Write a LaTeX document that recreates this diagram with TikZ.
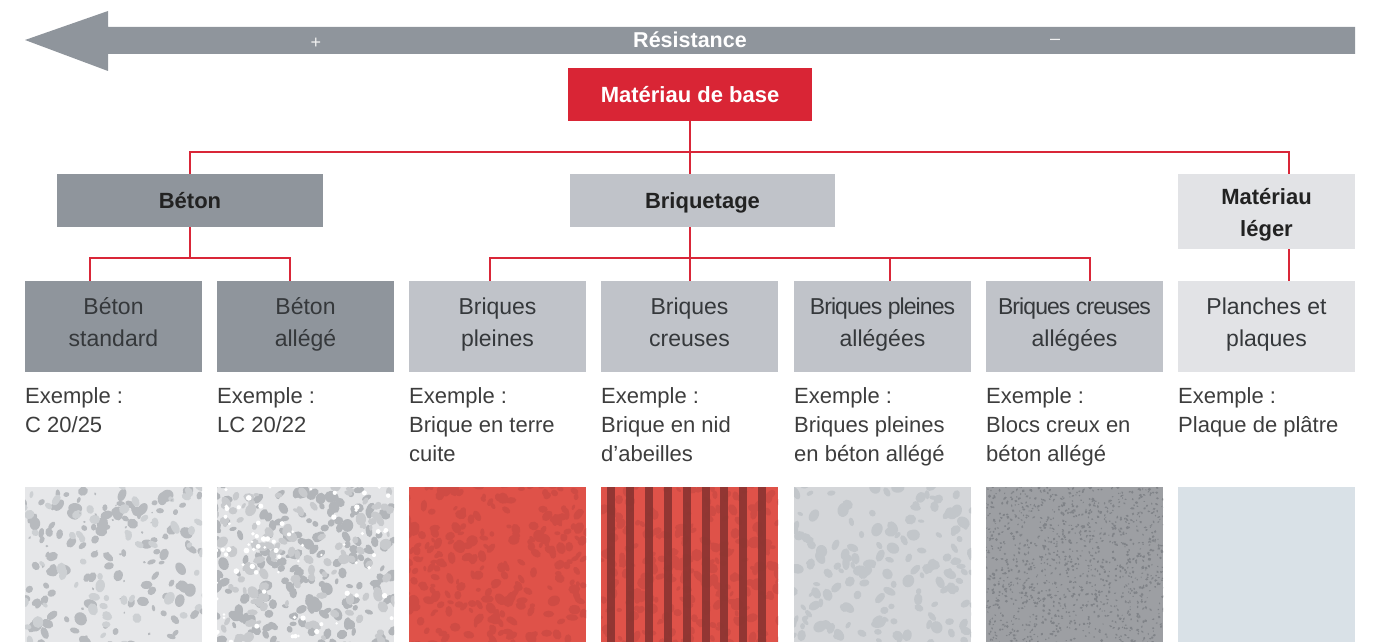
\documentclass[tikz,border=0pt]{standalone}
\usepackage{fontspec}
\setmainfont{Liberation Sans}
\definecolor{arrowgray}{HTML}{8F959C}
\definecolor{conred}{HTML}{D92638}
\definecolor{basered}{HTML}{D92535}
\definecolor{betongray}{HTML}{8F959C}
\definecolor{briqgray}{HTML}{C0C3C9}
\definecolor{legergray}{HTML}{E2E3E6}
\definecolor{txtdark}{HTML}{222222}
\definecolor{leaftxt}{HTML}{35383B}
\definecolor{extxt}{HTML}{3D3D3D}
\definecolor{sw1bg}{HTML}{E6E7E9}\definecolor{sw1a}{HTML}{B7BABE}\definecolor{sw1b}{HTML}{CDD0D3}
\definecolor{sw2bg}{HTML}{E3E4E6}\definecolor{sw2a}{HTML}{B2B5B9}\definecolor{sw2b}{HTML}{C8CACD}
\definecolor{redbg}{HTML}{DF5249}\definecolor{redst}{HTML}{CF4B44}\definecolor{stripe}{HTML}{8A3431}
\definecolor{sw5bg}{HTML}{D4D6D9}\definecolor{sw5a}{HTML}{C2C6CA}
\definecolor{sw6bg}{HTML}{9D9FA3}\definecolor{sw6a}{HTML}{808388}
\definecolor{sw7bg}{HTML}{D9E1E7}
\newcommand\mystones[5]{% x0, count, color, rmin, rrange
  \foreach \k in {1,...,#2}{%
    \pgfmathsetmacro\sx{#1+rnd*185-4}%
    \pgfmathsetmacro\sy{483+rnd*163}%
    \pgfmathsetmacro\sa{#4+rnd*#5}%
    \pgfmathsetmacro\sb{\sa*(0.5+0.4*rnd)}%
    \pgfmathsetmacro\sr{rnd*180}%
    \fill[#3,shift={(\sx,\sy)},rotate=\sr] (0,0) ellipse ({\sa} and {\sb});
  }}
\newcommand\twolines[2]{\rule{0pt}{20pt}#1\\#2\rule[-12.5pt]{0pt}{12.5pt}}
\begin{document}
\begin{tikzpicture}[x=1pt,y=-1pt,
  hdr/.style={font=\fontsize{22}{32}\selectfont\bfseries, text=txtdark, inner sep=0, align=center, minimum height=53, text height=16, text depth=0},
  leaf/.style={font=\fontsize{23}{32.5}\selectfont, text=leaftxt, inner sep=0, align=center, minimum width=177, minimum height=91},
  ex/.style={font=\fontsize{22}{29}\selectfont, text=extxt, inner sep=0, align=left, anchor=north west},
  conn/.style={draw=conred, line width=1.8},
  arrowshape/.style={fill=arrowgray},
  sign/.style={text=white!90!gray, font=\fontsize{18}{18}\selectfont, inner sep=0}]
\useasboundingbox (0,0) rectangle (1373,642);
% resistance arrow
\fill[arrowshape] (25,40) -- (108,11) -- (108,27) -- (1355,27) -- (1355,54) -- (108,54) -- (108,71) -- cycle;
\node[font=\fontsize{21.5}{22}\selectfont\bfseries, text=white, anchor=base, inner sep=0] (res) at (690,48) {Résistance};
\node[sign] (plus) at (316,43) {+};
\node[sign] (minus) at (1055,42) {–};
% top boxes
\node[hdr, fill=basered, text=white, minimum width=244] (base) at (690,94.5) {Matériau de base};
\node[hdr, fill=betongray, minimum width=266] (beton) at (190,200.5) {Béton};
\node[hdr, fill=briqgray, minimum width=265] (briq) at (702.5,200.5) {Briquetage};
\node[font=\fontsize{22}{32}\selectfont\bfseries, text=txtdark, inner sep=0, align=center, fill=legergray, minimum width=177, minimum height=75] (leger) at (1266.5,211.5) {\rule{0pt}{23.5pt}Matériau\\léger\rule[-4.5pt]{0pt}{4.5pt}};
% leaves
\node[leaf, fill=betongray] (bs) at (113.5,326.5) {\twolines{Béton}{standard}};
\node[leaf, fill=betongray] (ba) at (305.5,326.5) {\twolines{Béton}{allégé}};
\node[leaf, fill=briqgray] (bp) at (497.5,326.5) {\twolines{Briques}{pleines}};
\node[leaf, fill=briqgray] (bc) at (689.5,326.5) {\twolines{Briques}{creuses}};
\node[leaf, fill=briqgray] (bpa) at (882.5,326.5) {\twolines{{\addfontfeature{LetterSpace=-4}Briques pleines}}{allégées}};
\node[leaf, fill=briqgray] (bca) at (1074.5,326.5) {\twolines{{\addfontfeature{LetterSpace=-4}Briques creuses}}{allégées}};
\node[leaf, fill=legergray] (pl) at (1266.5,326.5) {\twolines{Planches et}{plaques}};
% connectors
\coordinate (tbR) at (1289,152);
\coordinate (bL) at (90,258);
\coordinate (bR) at (290,258);
\coordinate (qL) at (490,258);
\coordinate (q2) at (890,258);
\coordinate (qR) at (1090,258);
\draw[conn] (beton.north) |- (tbR) -- (tbR |- leger.north);
\draw[conn] (base.south) -- (base.south |- briq.north);
\draw[conn] (beton.south) -- (beton.south |- bL);
\draw[conn] (bL |- bs.north) -- (bL) -- (bR) -- (bR |- ba.north);
\draw[conn] (base.south |- briq.south) -- (base.south |- bc.north);
\draw[conn] (qL |- bp.north) -- (qL) -- (qR) -- (qR |- bca.north);
\draw[conn] (q2) -- (q2 |- bpa.north);
\draw[conn] (tbR |- leger.south) -- (tbR |- pl.north);
% examples
\node[ex] (ex1) at (25,387) {Exemple :\\C 20/25};
\node[ex] (ex2) at (217,387) {Exemple :\\LC 20/22};
\node[ex] (ex3) at (409,387) {Exemple :\\Brique en terre\\cuite};
\node[ex] (ex4) at (601,387) {Exemple :\\Brique en nid\\d’abeilles};
\node[ex] (ex5) at (794,387) {Exemple :\\Briques pleines\\en béton allégé};
\node[ex] (ex6) at (986,387) {Exemple :\\Blocs creux en\\béton allégé};
\node[ex] (ex7) at (1178,387) {Exemple :\\Plaque de plâtre};
% swatches
\pgfmathsetseed{7}
\begin{scope}
\clip (25,487) rectangle (202,642);
\fill[sw1bg] (25,487) rectangle (202,642);
\mystones{25}{120}{sw1a}{3}{4}
\mystones{25}{60}{sw1b}{3}{4}
\mystones{25}{35}{sw1a}{0.8}{1}
\end{scope}
\begin{scope}
\clip (217,487) rectangle (394,642);
\fill[sw2bg] (217,487) rectangle (394,642);
\mystones{217}{200}{sw2a}{2.8}{3.8}
\mystones{217}{120}{sw2b}{2.8}{3.8}
\foreach \k in {1,...,80}{\pgfmathsetmacro\sx{213+rnd*185}\pgfmathsetmacro\sy{483+rnd*163}\pgfmathsetmacro\sa{1.3+rnd*1.6}\fill[white] (\sx,\sy) circle (\sa);}
\end{scope}
\begin{scope}
\clip (409,487) rectangle (586,642);
\fill[redbg] (409,487) rectangle (586,642);
\mystones{409}{260}{redst}{2.5}{4}
\end{scope}
\begin{scope}
\clip (601,487) rectangle (778,642);
\fill[redbg] (601,487) rectangle (778,642);
\mystones{601}{260}{redst}{2.5}{4}
\foreach \i in {0,...,8}{\fill[stripe, opacity=0.9] (607+18.9*\i,487) rectangle (615+18.9*\i,642);}
\end{scope}
\begin{scope}
\clip (794,487) rectangle (971,642);
\fill[sw5bg] (794,487) rectangle (971,642);
\mystones{794}{170}{sw5a}{3}{4}
\end{scope}
\begin{scope}
\clip (986,487) rectangle (1163,642);
\fill[sw6bg] (986,487) rectangle (1163,642);
\mystones{986}{1300}{sw6a}{0.8}{1.0}
\end{scope}
\fill[sw7bg] (1178,487) rectangle (1355,642);
\end{tikzpicture}
\end{document}
